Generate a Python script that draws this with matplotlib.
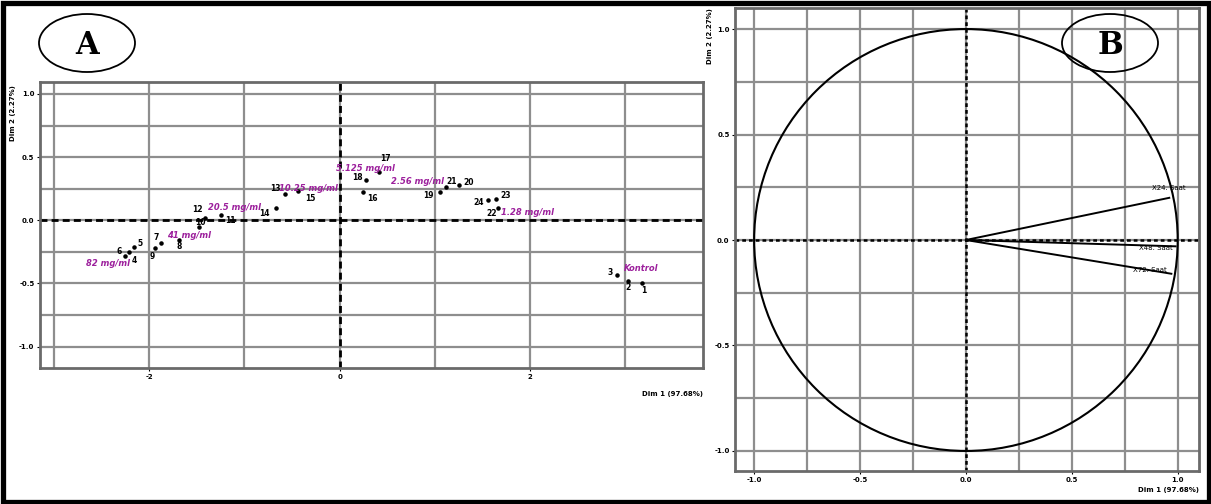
import numpy as np
import matplotlib.pyplot as plt
from matplotlib.patches import Ellipse, Circle, Rectangle
from matplotlib.ticker import MultipleLocator, FormatStrFormatter

# individuals (PCA scores)
obs_id = [str(i) for i in range(1, 25)]
dim1 = [3.18, 3.03, 2.92, -2.21, -2.16, -2.26, -1.88, -1.69, -1.94, -1.48, -1.25, -1.41,
        -0.57, -0.67, -0.44, 0.25, 0.41, 0.28, 1.06, 1.25, 1.12, 1.66, 1.64, 1.56]
dim2 = [-0.50, -0.48, -0.43, -0.25, -0.21, -0.28, -0.18, -0.16, -0.22, -0.05, 0.04, 0.02,
        0.21, 0.10, 0.23, 0.22, 0.38, 0.32, 0.22, 0.28, 0.26, 0.10, 0.17, 0.16]

# concentration groups
group_names = ["82 mg/ml", "41 mg/ml", "20.5 mg/ml", "10.25 mg/ml",
               "5.125 mg/ml", "2.56 mg/ml", "1.28 mg/ml", "Kontrol"]
group_dim1 = [-2.43, -1.58, -1.11, -0.33, 0.27, 0.82, 1.97, 3.17]
group_dim2 = [-0.34, -0.12, 0.10, 0.25, 0.41, 0.31, 0.06, -0.38]

# variables (correlation circle)
var_names = ["X24. Saat", "X48. Saat", "X72. Saat"]
var_dim1 = [0.96, 0.99, 0.97]
var_dim2 = [0.20, -0.03, -0.16]

# label offsets in points for the observation numbers
lab_off = {'1': (1, -5), '2': (0, -4.5), '3': (-5, 1.5), '4': (3.5, -6.5), '5': (4, 2.5),
           '6': (-4, 3), '7': (-3, 4), '8': (0, -4.5), '9': (-2, -6), '10': (1, 3),
           '11': (7, -4), '12': (-6, 6), '13': (-7, 4), '14': (-8, -4), '15': (9, -5),
           '16': (6.5, -4), '17': (5, 10), '18': (-6, 2), '19': (-9, -2), '20': (7, 1.5),
           '21': (4, 4), '22': (-4, -4.5), '23': (7, 2.5), '24': (-7, -1.5)}
var_off = [(0, 5, 'center', 'bottom'), (-2, -1, 'right', 'center'), (-3, 3, 'right', 'center')]

purple = '#9c1f9c'
grid_c = '#8e8e8e'
spine_c = '#6a6a6a'

fig = plt.figure(figsize=(12.11, 5.04), dpi=100)


def style_axes(ax, major_x, major_y, minor_x, minor_y, fmt_x, fmt_y):
    ax.xaxis.set_major_locator(MultipleLocator(major_x))
    ax.yaxis.set_major_locator(MultipleLocator(major_y))
    ax.xaxis.set_minor_locator(MultipleLocator(minor_x))
    ax.yaxis.set_minor_locator(MultipleLocator(minor_y))
    ax.xaxis.set_major_formatter(FormatStrFormatter(fmt_x))
    ax.yaxis.set_major_formatter(FormatStrFormatter(fmt_y))
    ax.grid(True, which='both', color=grid_c, lw=1.6, zorder=0)
    ax.set_axisbelow(True)
    ax.tick_params(which='major', length=2, width=0.8, labelsize=5, pad=2)
    ax.tick_params(which='minor', length=0)
    for t in ax.get_xticklabels() + ax.get_yticklabels():
        t.set_fontweight('bold')
    for s in ax.spines.values():
        s.set_color(spine_c)
        s.set_linewidth(2)


# ---- Panel A: individuals ----
axA = fig.add_axes([0.033, 0.2698, 0.5475, 0.5675])
axA.set_xlim(-3.15, 3.82)
axA.set_ylim(-1.17, 1.095)
style_axes(axA, 2, 0.5, 1, 0.25, '%d', '%.1f')
axA.axhline(0, color='black', lw=2, ls=(0, (2.5, 1.5)), zorder=2)
axA.axvline(0, color='black', lw=2, ls=(0, (2.5, 1.5)), zorder=2)

axA.scatter(dim1, dim2, s=5, color='black', zorder=4)
for name, x, y in zip(obs_id, dim1, dim2):
    dx, dy = lab_off[name]
    axA.annotate(name, (x, y), xytext=(dx, dy), textcoords='offset points',
                 ha='center', va='center', fontsize=5.5, fontweight='bold', zorder=5)
for name, x, y in zip(group_names, group_dim1, group_dim2):
    axA.text(x, y, name, color=purple, fontsize=6, fontweight='bold',
             fontstyle='italic', ha='center', va='center', zorder=5)

axA.text(-0.04, 0.99, "Dim 2 (2.27%)", transform=axA.transAxes, rotation=90,
         ha='center', va='top', fontsize=5, fontweight='bold')
axA.text(1.0, -0.09, "Dim 1 (97.68%)", transform=axA.transAxes,
         ha='right', va='center', fontsize=5, fontweight='bold')

# ---- Panel B: correlation circle ----
axB = fig.add_axes([0.607, 0.0655, 0.383, 0.9187])
axB.set_xlim(-1.09, 1.1)
axB.set_ylim(-1.095, 1.1)
style_axes(axB, 0.5, 0.5, 0.25, 0.25, '%.1f', '%.1f')
axB.axhline(0, color='black', lw=1.8, ls=(0, (1.5, 1.2)), zorder=2)
axB.axvline(0, color='black', lw=1.8, ls=(0, (1.5, 1.2)), zorder=2)
axB.add_patch(Circle((0, 0), 1, fill=False, color='black', lw=1.5, zorder=3))
for name, x, y, (dx, dy, ha, va) in zip(var_names, var_dim1, var_dim2, var_off):
    axB.plot([0, x], [0, y], color='black', lw=1.4, zorder=4)
    axB.annotate(name, (x, y), xytext=(dx, dy), textcoords='offset points',
                 ha=ha, va=va, fontsize=5, zorder=5)

axB.text(-0.055, 1.0, "Dim 2 (2.27%)", transform=axB.transAxes, rotation=90,
         ha='center', va='top', fontsize=5, fontweight='bold')
axB.text(1.0, -0.04, "Dim 1 (97.68%)", transform=axB.transAxes,
         ha='right', va='center', fontsize=5, fontweight='bold')

# ---- overlay: panel letters and outer frame ----
ov = fig.add_axes([0, 0, 1, 1])
ov.set_xlim(0, 1211)
ov.set_ylim(504, 0)
ov.axis('off')
for letter, cx in [("A", 87), ("B", 1110)]:
    ov.add_patch(Ellipse((cx, 43), 96, 58, fill=False, color='black', lw=1.3))
    ov.text(cx, 45, letter, ha='center', va='center', fontsize=22,
            fontweight='bold', family='DejaVu Serif')
ov.add_patch(Rectangle((2.5, 2.5), 1206, 499, fill=False, color='black', lw=3.8))

fig.savefig('out.png', dpi=100)
